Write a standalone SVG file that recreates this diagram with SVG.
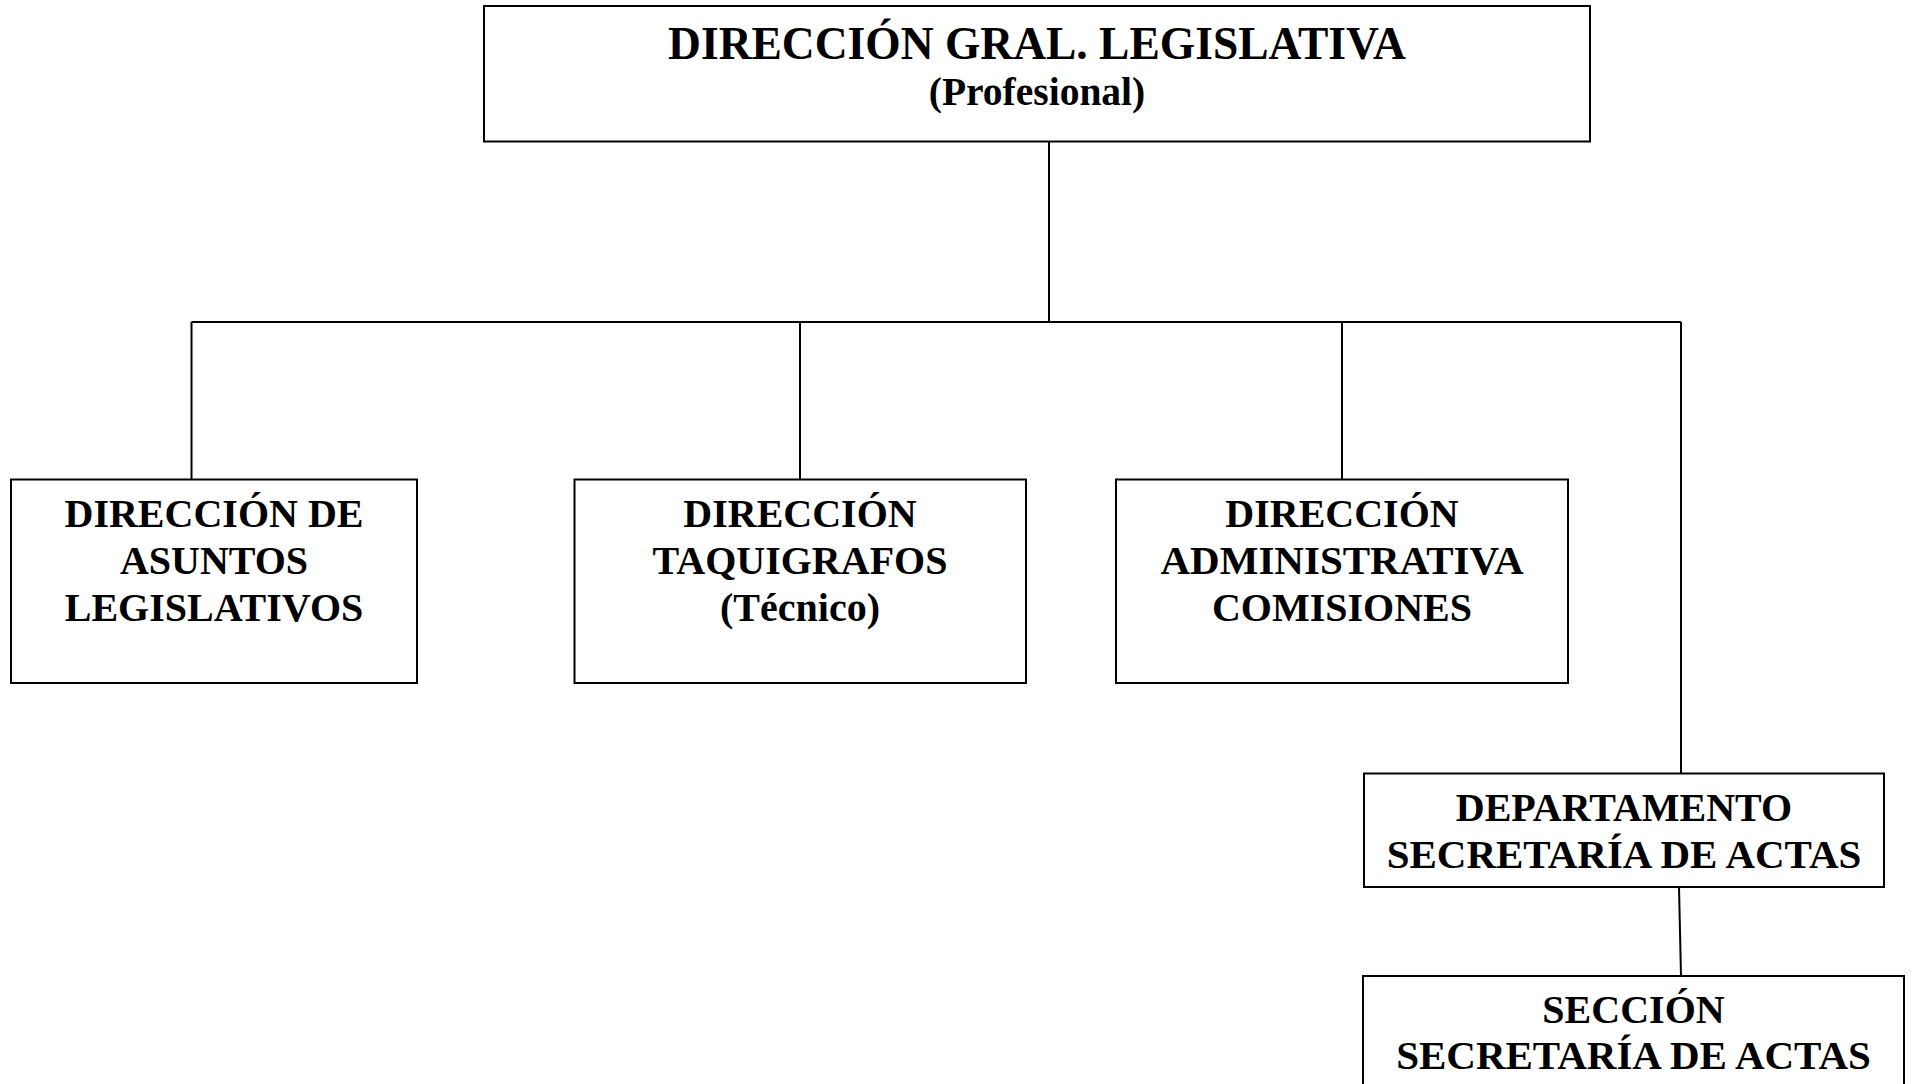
<svg xmlns="http://www.w3.org/2000/svg" width="1913" height="1084" viewBox="0 0 1913 1084">
<style>
.box{fill:#fff;stroke:#000;stroke-width:2}
.ln{fill:none;stroke:#000;stroke-width:2}
text{font-family:"Liberation Serif","Times New Roman",serif;font-weight:bold;fill:#000;text-anchor:middle}
.t{font-size:40px}
.t2{font-size:41px}
</style>
<rect width="1913" height="1084" fill="#fff"/>
<g id="connectors">
<line class="ln" x1="1049" y1="141.5" x2="1049" y2="322"/>
<line class="ln" x1="191.5" y1="322" x2="1681" y2="322"/>
<line class="ln" x1="191.5" y1="322" x2="191.5" y2="479.5"/>
<line class="ln" x1="800" y1="322" x2="800" y2="479.5"/>
<line class="ln" x1="1342" y1="322" x2="1342" y2="479.5"/>
<line class="ln" x1="1681" y1="322" x2="1681" y2="773.5"/>
<line class="ln" x1="1679" y1="887" x2="1681" y2="976"/>
</g>
<g id="n-general">
<rect class="box" x="484" y="6" width="1106" height="135.5"/>
<text x="1037" y="58.5" font-size="45.5">DIRECCIÓN GRAL. LEGISLATIVA</text>
<text x="1037" y="105" font-size="39.5">(Profesional)</text>
</g>
<g id="n-asuntos">
<rect class="box" x="11" y="479.5" width="406" height="203.5"/>
<text class="t" x="214" y="527">DIRECCIÓN DE</text>
<text class="t" x="214" y="573.5">ASUNTOS</text>
<text class="t" x="214" y="621">LEGISLATIVOS</text>
</g>
<g id="n-taquigrafos">
<rect class="box" x="574.5" y="479.5" width="451.5" height="203.5"/>
<text class="t" x="800" y="527">DIRECCIÓN</text>
<text class="t" x="800" y="573.5">TAQUIGRAFOS</text>
<text class="t" x="800" y="621">(Técnico)</text>
</g>
<g id="n-comisiones">
<rect class="box" x="1116" y="479.5" width="452" height="203.5"/>
<text class="t" x="1342" y="527">DIRECCIÓN</text>
<text class="t2" x="1342" y="573.5">ADMINISTRATIVA</text>
<text class="t" x="1342" y="621">COMISIONES</text>
</g>
<g id="n-departamento">
<rect class="box" x="1364" y="773.5" width="520" height="113.5"/>
<text class="t" x="1624" y="821">DEPARTAMENTO</text>
<text class="t2" x="1624" y="867.5">SECRETARÍA DE ACTAS</text>
</g>
<g id="n-seccion">
<rect class="box" x="1363" y="976" width="541" height="140"/>
<text class="t" x="1633.5" y="1022.5">SECCIÓN</text>
<text class="t2" x="1633.5" y="1069">SECRETARÍA DE ACTAS</text>
</g>
</svg>
